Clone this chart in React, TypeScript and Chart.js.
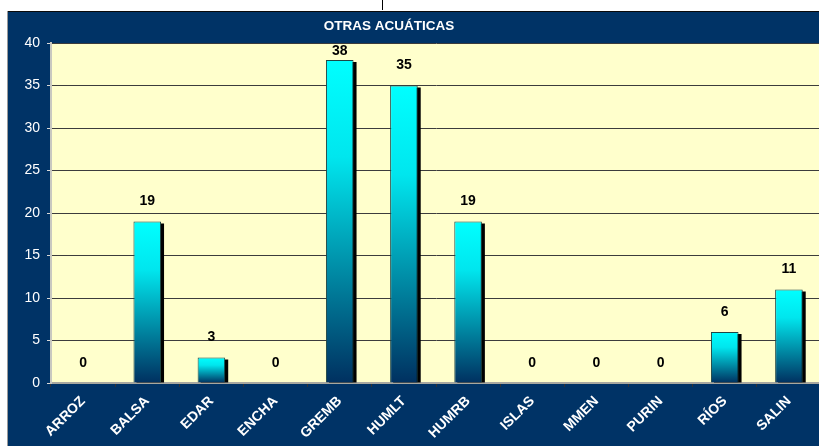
import React, { useEffect, useRef } from "react";
import { Chart, registerables } from "chart.js";

Chart.register(...registerables);

const categories = ["ARROZ", "BALSA", "EDAR", "ENCHA", "GREMB", "HUMLT", "HUMRB", "ISLAS", "MMEN", "PURIN", "RÍOS", "SALIN"];
const values = [0, 19, 3, 0, 38, 35, 19, 0, 0, 0, 6, 11];
const titleText = "OTRAS ACUÁTICAS";
const yMin = 0;
const yMax = 40;
const yStep = 5;

const NAVY = "#003366";
const PLOT_BG = "#FFFFCC";
const FONT = "Arial, 'Liberation Sans', sans-serif";

const backgroundPlugin = {
  id: "bgPanel",
  beforeDraw(chart: any) {
    const { ctx, width, height, chartArea } = chart;
    ctx.save();
    ctx.fillStyle = "#ffffff";
    ctx.fillRect(0, 0, width, height);
    ctx.fillStyle = NAVY;
    ctx.fillRect(8, 11, width - 8, height - 11);
    ctx.fillStyle = "#0a0a0a";
    ctx.fillRect(8, 11, width - 8, 1);
    ctx.fillStyle = "#9a9a9a";
    ctx.fillRect(7, 11, 1, height - 11);
    ctx.fillStyle = "#000000";
    ctx.fillRect(382, 0, 1, 10);
    ctx.fillStyle = PLOT_BG;
    ctx.fillRect(chartArea.left, chartArea.top, chartArea.right - chartArea.left, chartArea.bottom - chartArea.top);
    ctx.fillStyle = "#ffffff";
    ctx.font = "bold 13.5px " + FONT;
    ctx.textAlign = "center";
    ctx.textBaseline = "middle";
    ctx.fillText(titleText, 389, 26);
    ctx.restore();
  },
};

const shadowPlugin = {
  id: "barShadow",
  beforeDatasetsDraw(chart: any) {
    const { ctx, chartArea } = chart;
    const meta = chart.getDatasetMeta(0);
    ctx.save();
    ctx.beginPath();
    ctx.rect(chartArea.left, chartArea.top, chartArea.right - chartArea.left, chartArea.bottom - chartArea.top);
    ctx.clip();
    ctx.fillStyle = "#000000";
    meta.data.forEach((bar: any, i: number) => {
      if (!values[i]) return;
      const w = bar.width;
      ctx.fillRect(bar.x - w / 2 + 3, bar.y + 2, w, bar.base - bar.y - 2);
    });
    ctx.restore();
  },
  afterDatasetsDraw(chart: any) {
    const { ctx, chartArea } = chart;
    const meta = chart.getDatasetMeta(0);
    ctx.save();
    ctx.fillStyle = "#000000";
    ctx.font = "bold 14px " + FONT;
    ctx.textAlign = "center";
    ctx.textBaseline = "middle";
    meta.data.forEach((bar: any, i: number) => {
      const y = Math.max(bar.y - 20, chartArea.top + 8);
      ctx.fillText(String(values[i]), bar.x, y);
    });
    ctx.restore();
  },
};

export default function App() {
  const ref = useRef<HTMLCanvasElement | null>(null);
  useEffect(() => {
    document.body.style.margin = "0";
    const canvas = ref.current!;
    const chart = new Chart(canvas, {
      type: "bar",
      data: {
        labels: categories,
        datasets: [
          {
            data: values,
            backgroundColor: (c: any) => {
              const ch = c.chart;
              const ys = ch.scales?.y;
              if (!ys || c.dataIndex === undefined) return "#00FFFF";
              const v = values[c.dataIndex];
              const top = ys.getPixelForValue(v);
              const base = ys.getPixelForValue(0);
              if (!isFinite(top) || !isFinite(base) || base - top < 1) return "#00FFFF";
              const g = ch.ctx.createLinearGradient(0, top, 0, base);
              g.addColorStop(0, "#00FFFF");
              g.addColorStop(0.3, "#00E6EE");
              g.addColorStop(0.65, "#008CA6");
              g.addColorStop(1, "#003060");
              return g;
            },
            borderColor: "#1f4646",
            borderWidth: 1,
            borderSkipped: "bottom",
            barPercentage: 0.43,
            categoryPercentage: 1,
          },
        ],
      },
      options: {
        animation: false,
        responsive: false,
        maintainAspectRatio: false,
        devicePixelRatio: 1,
        layout: { padding: { top: 43, left: 0, right: 0, bottom: 0 } },
        plugins: {
          legend: { display: false },
          title: { display: false },
          tooltip: { enabled: false },
        },
        scales: {
          x: {
            offset: true,
            grid: {
              offset: true,
              drawOnChartArea: false,
              drawTicks: true,
              tickLength: 4,
              tickColor: "#333333",
            },
            border: { display: true, color: "#a8a8a0", width: 2 },
            ticks: {
              color: "#ffffff",
              font: { family: FONT, size: 14, weight: "bold" },
              minRotation: 45,
              maxRotation: 45,
              autoSkip: false,
              padding: 6,
            },
            afterFit(scale: any) {
              scale.height = 63;
              scale.paddingLeft = 0;
              scale.paddingRight = 0;
            },
          },
          y: {
            min: yMin,
            max: yMax,
            ticks: {
              stepSize: yStep,
              color: "#ffffff",
              font: { family: FONT, size: 14 },
              padding: 7,
            },
            grid: {
              color: "#3c3c3c",
              lineWidth: 1,
              tickLength: 4,
              tickColor: "#d8d8d8",
            },
            border: { display: true, color: "#c8c8c0", width: 2 },
            afterFit(scale: any) {
              scale.width = 51;
            },
          },
        },
      },
      plugins: [backgroundPlugin, shadowPlugin],
    });
    return () => chart.destroy();
  }, []);
  return (
    <div style={{ width: 819, height: 446, overflow: "hidden" }}>
      <canvas ref={ref} width={821} height={446} style={{ display: "block", width: 821, height: 446 }} />
    </div>
  );
}
